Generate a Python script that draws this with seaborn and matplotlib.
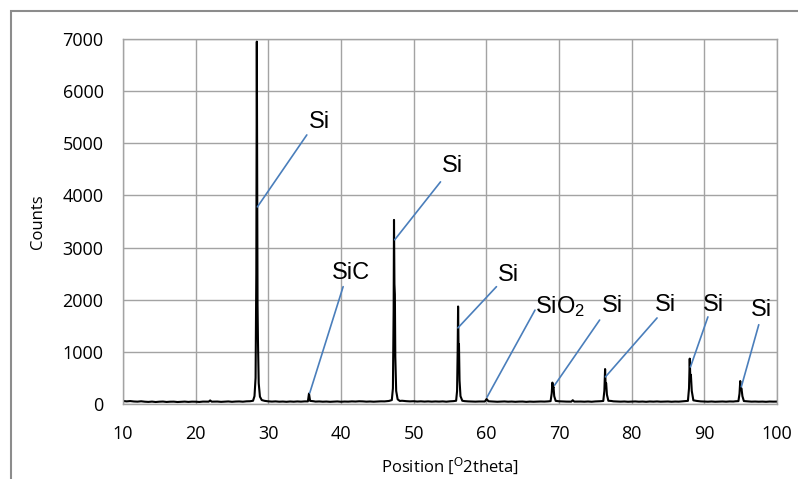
import numpy as np
import matplotlib
matplotlib.use('Agg')
import matplotlib.pyplot as plt
import seaborn as sns
from matplotlib.patches import Rectangle

# background readings (deg 2theta, counts)
bg_pos = [10, 10.5, 11, 11.5, 12, 12.5, 13, 13.5, 14, 14.5, 15, 15.5, 16, 16.5, 17, 17.5,
          18, 18.5, 19, 19.5, 20, 20.5, 21, 23, 23.5, 24, 24.5, 25, 25.5, 26, 26.5, 27, 27.5,
          29.5, 30, 30.5, 31, 31.5, 32, 32.5, 33, 33.5, 34, 34.5, 35, 36.2, 36.5, 37, 37.5,
          38, 38.5, 39, 39.5, 40, 40.5, 41, 41.5, 42, 42.5, 43, 43.5, 44, 44.5, 45, 45.5,
          46, 46.6, 48.4, 49, 49.5, 50, 50.5, 51, 51.5, 52, 52.5, 53, 53.5, 54, 54.5, 55,
          55.5, 57, 57.5, 58, 58.5, 59, 61, 61.5, 62, 62.5, 63, 63.5, 64, 64.5, 65, 65.5,
          66, 66.5, 67, 67.5, 68, 68.5, 70, 70.5, 71, 73, 73.5, 74, 74.5, 75, 75.7, 77.2,
          77.5, 78, 78.5, 79, 79.5, 80, 80.5, 81, 81.5, 82, 82.5, 83, 83.5, 84, 84.5, 85,
          85.5, 86, 86.5, 87, 87.4, 89, 89.5, 90, 90.5, 91, 91.5, 92, 92.5, 93, 93.5, 94,
          94.3, 96, 96.5, 97, 97.5, 98, 98.5, 99, 99.5, 100]
bg_counts = [58, 50, 56, 48, 45, 52, 44, 40, 46, 38, 44, 47, 39, 44, 45, 38,
             43, 46, 40, 45, 44, 39, 46, 47, 41, 44, 49, 42, 47, 49, 44, 51, 53,
             60, 51, 46, 50, 44, 47, 42, 48, 44, 49, 45, 50, 53, 46, 49, 44,
             47, 42, 46, 49, 43, 47, 45, 50, 47, 52, 50, 45, 48, 44, 47, 51,
             50, 58, 62, 54, 50, 53, 47, 51, 46, 50, 45, 49, 46, 50, 44, 51,
             55, 55, 50, 48, 45, 48, 47, 43, 46, 49, 44, 47, 42, 46, 47, 41,
             46, 43, 45, 48, 46, 50, 52, 48, 46, 47, 44, 48, 43, 49, 53, 58,
             51, 47, 45, 48, 43, 46, 49, 44, 47, 42, 48, 45, 49, 44, 46, 48,
             43, 47, 45, 51, 55, 58, 50, 47, 44, 48, 43, 46, 48, 44, 49, 47,
             52, 50, 45, 47, 44, 46, 42, 47, 45, 46]

# peak profiles
peak_pos = [21.8, 22.0, 22.2,
            27.9, 28.1, 28.25, 28.35, 28.42, 28.47, 28.52, 28.58, 28.68, 28.85, 29.1,
            35.45, 35.6, 35.75,
            47.0, 47.15, 47.25, 47.30, 47.36, 47.42, 47.48, 47.6, 47.8, 48.1,
            55.85, 55.98, 56.06, 56.12, 56.18, 56.24, 56.32, 56.45, 56.7,
            59.8, 60.05, 60.3,
            68.85, 69.0, 69.1, 69.17, 69.25, 69.35, 69.55,
            71.7, 71.9, 72.1,
            76.1, 76.25, 76.35, 76.42, 76.5, 76.6, 76.8,
            87.75, 87.9, 88.0, 88.08, 88.16, 88.28, 88.5,
            94.7, 94.85, 94.95, 95.02, 95.12, 95.25, 95.45]
peak_counts = [45, 68, 45,
               62, 150, 500, 2500, 6950, 4000, 1900, 1200, 400, 140, 75,
               50, 200, 60,
               75, 300, 1800, 3530, 2300, 2100, 900, 250, 90, 58,
               62, 250, 1000, 1870, 1100, 1150, 450, 150, 62,
               48, 95, 52,
               55, 200, 410, 300, 330, 150, 60,
               45, 72, 46,
               58, 250, 670, 380, 400, 180, 62,
               60, 300, 870, 500, 560, 250, 70,
               55, 200, 440, 280, 300, 150, 56]

# phase labels: name, peak point, line end, text position
labels = ['Si', 'SiC', 'Si', 'Si', 'SiO$_2$', 'Si', 'Si', 'Si', 'Si']
label_x = [28.5, 35.7, 47.4, 56.1, 60.1, 69.4, 76.4, 88.1, 95.1]
label_y = [3780, 210, 3150, 1460, 130, 360, 520, 710, 330]
line_x = [35.3, 40.3, 53.7, 61.4, 66.7, 75.6, 83.5, 90.5, 97.5]
line_y = [5160, 2250, 4260, 2250, 1800, 1610, 1650, 1670, 1520]
text_x = [37.1, 41.4, 55.3, 63.0, 70.2, 77.3, 84.6, 91.2, 97.9]
text_y = [5400, 2520, 4560, 2480, 1860, 1880, 1900, 1900, 1800]

pos = np.array(bg_pos + peak_pos)
counts = np.array(bg_counts + peak_counts)
order = np.argsort(pos)
pos, counts = pos[order], counts[order]

sns.set_style('whitegrid')
plt.rcParams['font.family'] = ['Open Sans', 'DejaVu Sans']
plt.rcParams['text.color'] = 'black'
plt.rcParams['axes.labelcolor'] = 'black'
plt.rcParams['mathtext.fontset'] = 'custom'
plt.rcParams['mathtext.rm'] = 'Liberation Sans'
plt.rcParams['mathtext.it'] = 'Liberation Sans'

grid_col = '#a3a3a3'
fig = plt.figure(figsize=(7.98, 4.79), dpi=100)
ax = fig.add_axes([0.1541, 0.1566, 0.8195, 0.762])

sns.lineplot(x=pos, y=counts, ax=ax, color='black', lw=1.5, estimator=None, sort=False)

ax.set_xlim(10, 100)
ax.set_ylim(0, 7000)
ax.set_xticks(range(10, 101, 10))
ax.set_yticks(range(0, 7001, 1000))
ax.grid(True, color=grid_col, lw=1.0)
for s in ax.spines.values():
    s.set_color(grid_col)
    s.set_linewidth(1.0)
ax.tick_params(axis='both', length=5, width=1.0, color=grid_col, labelsize=13,
               labelcolor='black')
ax.tick_params(axis='y', pad=9)
ax.tick_params(axis='x', pad=10)
ax.set_ylabel('Counts', fontsize=12, labelpad=12, color='black')
ax.set_xlabel(r'Position [$^{\mathrm{O}}$2theta]', fontsize=12, labelpad=9, color='black')

for i, lab in enumerate(labels):
    ax.plot([label_x[i], line_x[i]], [label_y[i], line_y[i]], color='#4a7ebb', lw=1.2)
    ax.text(text_x[i], text_y[i], lab, fontsize=17, family='Liberation Sans',
            color='black', ha='center', va='center')

fig.add_artist(Rectangle((11 / 798, -0.1), 2, 1.1 - 11 / 479, transform=fig.transFigure,
                         fill=False, ec='#8c8c8c', lw=1.5))

fig.savefig('out.png', dpi=100)
